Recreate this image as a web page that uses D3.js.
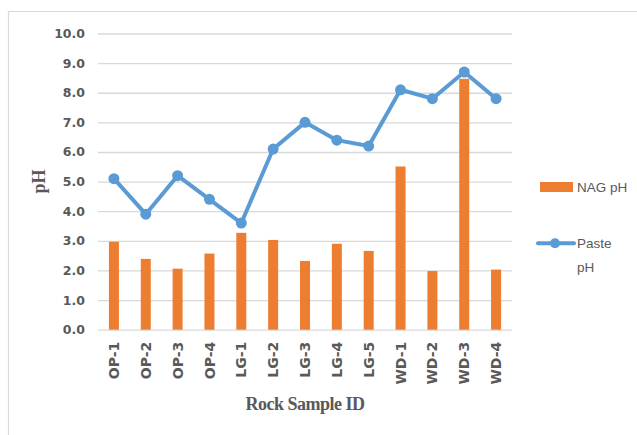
<!DOCTYPE html>
<html>
<head>
<meta charset="utf-8">
<script src="https://cdn.jsdelivr.net/npm/d3@7"></script>
<style>
  body { margin: 0; background: #fff; }
  svg { display: block; }
</style>
</head>
<body>
<svg id="chart"></svg>
<script>
const samples = ['OP-1', 'OP-2', 'OP-3', 'OP-4', 'LG-1', 'LG-2', 'LG-3', 'LG-4', 'LG-5', 'WD-1', 'WD-2', 'WD-3', 'WD-4'];
const nagPH = [2.97, 2.39, 2.06, 2.57, 3.27, 3.03, 2.32, 2.9, 2.66, 5.51, 1.98, 8.47, 2.03];
const pastePH = [5.1, 3.9, 5.2, 4.4, 3.6, 6.1, 7.0, 6.4, 6.2, 8.1, 7.8, 8.7, 7.8];
const yTicks = [0, 1, 2, 3, 4, 5, 6, 7, 8, 9, 10];

const width = 637, height = 435;
const margin = { top: 33.5, bottom: 105.3, left: 98, right: 125 };
const innerW = width - margin.left - margin.right;
const innerH = height - margin.top - margin.bottom;

const blue = '#5b9bd5', orange = '#ed7d31', grey = '#595959';

const svg = d3.select('#chart')
  .attr('width', width)
  .attr('height', height);

// outer frame (only top and left visible in the crop)
svg.append('path')
  .attr('d', 'M8.5,' + height + 'V11.5H' + width)
  .attr('fill', 'none')
  .attr('stroke', '#d9d9d9')
  .attr('stroke-width', 1.2);

const chart = svg.append('g')
  .attr('transform', `translate(${margin.left},${margin.top})`);

const xScale = d3.scaleBand()
  .domain(samples)
  .range([0, innerW]);

const yScale = d3.scaleLinear()
  .domain([0, 10])
  .range([innerH, 0]);

// gridlines + y labels
const yAxis = d3.axisLeft(yScale)
  .tickValues(yTicks)
  .tickFormat(d3.format('.1f'))
  .tickSize(-innerW)
  .tickPadding(13);

const yAxisG = chart.append('g').call(yAxis);
yAxisG.select('.domain').remove();
yAxisG.selectAll('.tick line')
  .attr('stroke', '#d9d9d9')
  .attr('stroke-width', 1.3);
yAxisG.selectAll('.tick text')
  .attr('fill', grey)
  .style('font-family', '"DejaVu Sans", sans-serif')
  .style('font-weight', 'bold')
  .style('font-size', '12.5px');

// x labels
const xAxis = d3.axisBottom(xScale)
  .tickSize(0)
  .tickPadding(0);

const xAxisG = chart.append('g')
  .attr('transform', `translate(0,${innerH})`)
  .call(xAxis);
xAxisG.select('.domain').remove();
xAxisG.selectAll('.tick text')
  .attr('fill', grey)
  .attr('transform', 'rotate(-90)')
  .attr('text-anchor', 'end')
  .attr('x', -12)
  .attr('y', 0)
  .attr('dy', '0.36em')
  .style('font-family', '"DejaVu Sans", sans-serif')
  .style('font-weight', 'bold')
  .style('font-size', '14px');

// bars
const barW = 10;
chart.selectAll('.bar')
  .data(samples)
  .enter().append('rect')
  .attr('class', 'bar')
  .attr('x', d => xScale(d) + xScale.bandwidth() / 2 - barW / 2)
  .attr('y', (d, i) => yScale(nagPH[i]))
  .attr('width', barW)
  .attr('height', (d, i) => innerH - yScale(nagPH[i]))
  .attr('fill', orange);

// line
const line = d3.line()
  .x(d => xScale(d[0]) + xScale.bandwidth() / 2)
  .y(d => yScale(d[1]));

const pastePts = samples.map((s, i) => [s, pastePH[i]]);

chart.append('path')
  .datum(pastePts)
  .attr('d', line)
  .attr('fill', 'none')
  .attr('stroke', blue)
  .attr('stroke-width', 4)
  .attr('stroke-linejoin', 'round');

chart.selectAll('.pt')
  .data(pastePts)
  .enter().append('circle')
  .attr('class', 'pt')
  .attr('cx', d => xScale(d[0]) + xScale.bandwidth() / 2)
  .attr('cy', d => yScale(d[1]))
  .attr('r', 5.5)
  .attr('fill', blue);

// axis titles
svg.append('text')
  .attr('transform', `translate(45,${margin.top + innerH / 2}) rotate(-90)`)
  .attr('text-anchor', 'middle')
  .attr('fill', grey)
  .style('font-family', '"Liberation Serif", serif')
  .style('font-weight', 'bold')
  .style('font-size', '18px')
  .text('pH');

svg.append('text')
  .attr('x', margin.left + innerW / 2)
  .attr('y', 410)
  .attr('text-anchor', 'middle')
  .attr('fill', grey)
  .style('font-family', '"Liberation Serif", serif')
  .style('font-weight', 'bold')
  .style('font-size', '18px')
  .style('letter-spacing', '-0.5px')
  .text('Rock Sample ID');

// legend
const legend = svg.append('g');
legend.append('rect')
  .attr('x', 540).attr('y', 182)
  .attr('width', 33).attr('height', 10)
  .attr('fill', orange);
legend.append('text')
  .attr('x', 577).attr('y', 191.5)
  .attr('fill', grey)
  .style('font-family', '"Liberation Sans", sans-serif')
  .style('font-size', '13.5px')
  .text('NAG pH');

legend.append('line')
  .attr('x1', 538).attr('x2', 574)
  .attr('y1', 243.3).attr('y2', 243.3)
  .attr('stroke', blue)
  .attr('stroke-width', 4)
  .attr('stroke-linecap', 'round');
legend.append('circle')
  .attr('cx', 555).attr('cy', 243.3)
  .attr('r', 5)
  .attr('fill', blue);
legend.append('text')
  .attr('x', 577).attr('y', 248)
  .attr('fill', grey)
  .style('font-family', '"Liberation Sans", sans-serif')
  .style('font-size', '13.5px')
  .text('Paste');
legend.append('text')
  .attr('x', 577).attr('y', 271.5)
  .attr('fill', grey)
  .style('font-family', '"Liberation Sans", sans-serif')
  .style('font-size', '13.5px')
  .text('pH');
</script>
</body>
</html>
